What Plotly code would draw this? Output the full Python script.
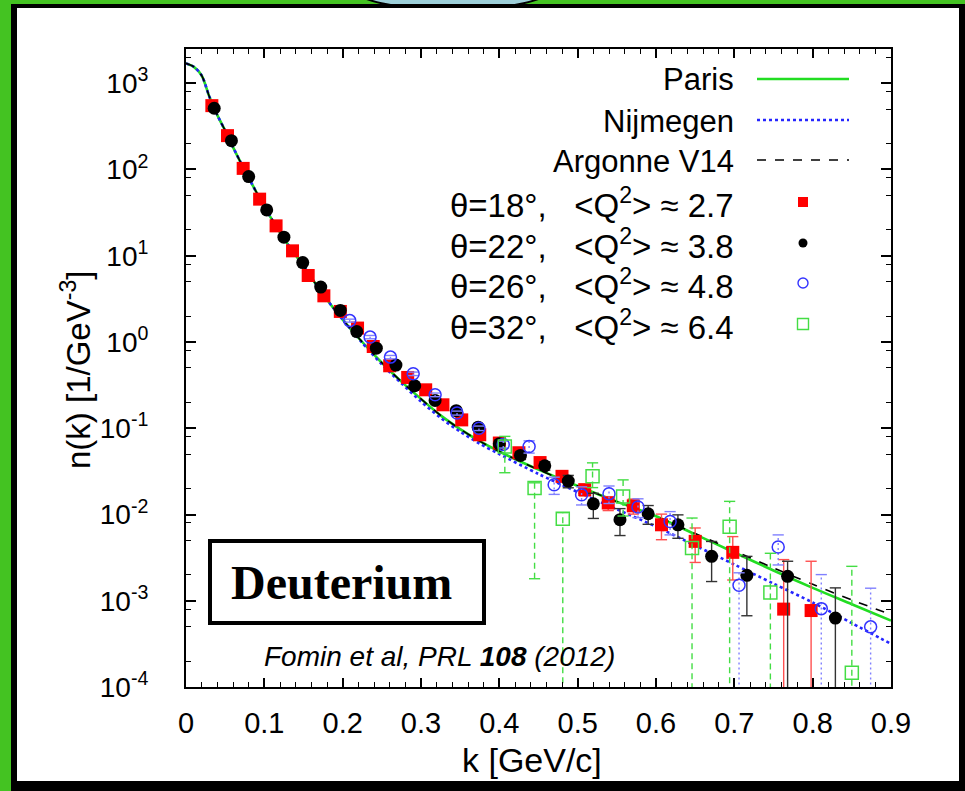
import plotly.graph_objects as go

# ---------------- data ----------------
k_curve = [0.0, 0.01, 0.02, 0.03, 0.04, 0.05, 0.06, 0.075, 0.10, 0.125, 0.15, 0.175, 0.20,
           0.225, 0.25, 0.275, 0.30, 0.325, 0.35, 0.375, 0.40, 0.45, 0.50, 0.55, 0.60,
           0.65, 0.70, 0.75, 0.80, 0.85, 0.90]
n_paris = [1700, 1550, 1230, 692, 427, 282, 182, 97.7, 37.2, 15.8, 7.59, 3.55, 1.82,
           1.0, 0.575, 0.347, 0.219, 0.141, 0.0977, 0.0708, 0.0537, 0.0331, 0.0214, 0.0141, 0.00955,
           0.00589, 0.00363, 0.00224, 0.00141, 0.000912, 0.000589]
n_nijmegen = [1700, 1550, 1230, 692, 427, 282, 182, 97.7, 37.2, 15.8, 7.59, 3.55, 1.82,
              0.977, 0.550, 0.331, 0.204, 0.132, 0.0912, 0.0661, 0.0501, 0.0295, 0.0182, 0.0115, 0.00724,
              0.00437, 0.00263, 0.00158, 0.000955, 0.00055, 0.000316]
n_argonne = [1700, 1550, 1230, 692, 427, 282, 182, 97.7, 37.2, 15.8, 7.59, 3.55, 1.82,
             1.0, 0.575, 0.347, 0.219, 0.141, 0.0977, 0.0708, 0.0537, 0.0331, 0.0214, 0.0141, 0.00955,
             0.00603, 0.00380, 0.00240, 0.00155, 0.00102, 0.000692]

k_18 = [0.033, 0.053, 0.073, 0.094, 0.115, 0.136, 0.156, 0.176, 0.197, 0.219, 0.239, 0.260, 0.283,
        0.306, 0.328, 0.352, 0.375, 0.400, 0.425, 0.452, 0.480, 0.509, 0.539, 0.571, 0.607, 0.650,
        0.698, 0.763, 0.798]
n_18 = [550, 247, 103, 45.3, 22.2, 11.4, 5.9, 3.43, 2.26, 1.45, 0.887, 0.53, 0.388,
        0.279, 0.187, 0.125, 0.084, 0.0674, 0.052, 0.040, 0.0277, 0.0194, 0.0136, 0.0126, 0.0076, 0.00488,
        0.00364, 0.00080, 0.00077]
up_18 = [16, 7, 3, 1.4, 0.7, 0.35, 0.18, 0.1, 0.07, 0.05, 0.03, 0.02, 0.015,
         0.012, 0.009, 0.007, 0.006, 0.006, 0.005, 0.005, 0.004, 0.003, 0.0025, 0.0025, 0.0025, 0.0021,
         0.0019, 0.0022, 0.0021]
lo_18 = [16, 7, 3, 1.4, 0.7, 0.35, 0.18, 0.1, 0.07, 0.05, 0.03, 0.02, 0.015,
         0.012, 0.009, 0.007, 0.006, 0.006, 0.005, 0.005, 0.004, 0.003, 0.0025, 0.0025, 0.0025, 0.0021,
         0.0019, 0.000799, 0.000769]

k_22 = [0.036, 0.058, 0.080, 0.103, 0.125, 0.149, 0.172, 0.197, 0.218, 0.243, 0.268, 0.292, 0.318,
        0.345, 0.373, 0.400, 0.427, 0.458, 0.488, 0.520, 0.554, 0.590, 0.628, 0.671, 0.716, 0.768, 0.829]
n_22 = [513, 216, 82.8, 34.0, 16.4, 8.34, 4.33, 2.32, 1.32, 0.849, 0.54, 0.311, 0.21,
        0.16, 0.103, 0.066, 0.0484, 0.0367, 0.0244, 0.0133, 0.0087, 0.0102, 0.0076, 0.00327, 0.00197,
        0.00192, 0.00063]
up_22 = [15, 6, 2.5, 1.0, 0.5, 0.25, 0.13, 0.07, 0.04, 0.03, 0.02, 0.012, 0.009,
         0.007, 0.006, 0.005, 0.005, 0.004, 0.004, 0.0043, 0.003, 0.0025, 0.0023, 0.0016, 0.0013,
         0.00095, 0.00078]
lo_22 = [15, 6, 2.5, 1.0, 0.5, 0.25, 0.13, 0.07, 0.04, 0.03, 0.02, 0.012, 0.009,
         0.007, 0.006, 0.005, 0.005, 0.004, 0.004, 0.0043, 0.003, 0.0025, 0.0023, 0.0016, 0.0013,
         0.00191, 0.000629]

k_26 = [0.209, 0.235, 0.261, 0.290, 0.318, 0.346, 0.374, 0.405, 0.438, 0.470, 0.505, 0.540, 0.577,
        0.618, 0.706, 0.756, 0.811, 0.874]
n_26 = [1.77, 1.14, 0.668, 0.428, 0.244, 0.15, 0.10, 0.0649, 0.0615, 0.0221, 0.0169, 0.0174, 0.0122,
        0.0083, 0.00151, 0.0042, 0.00081, 0.000498]
up_26 = [0.07, 0.05, 0.03, 0.02, 0.012, 0.008, 0.006, 0.006, 0.01, 0.005, 0.004, 0.004, 0.003,
         0.0025, 0.0006, 0.0016, 0.0012, 0.0009]
lo_26 = [0.07, 0.05, 0.03, 0.02, 0.012, 0.008, 0.006, 0.006, 0.01, 0.005, 0.004, 0.004, 0.003,
         0.0025, 0.001509, 0.0016, 0.000809, 0.000497]

k_32 = [0.407, 0.445, 0.481, 0.519, 0.558, 0.646, 0.694, 0.746, 0.850]
n_32 = [0.0615, 0.0203, 0.0089, 0.0277, 0.0162, 0.0041, 0.0072, 0.00125, 0.000146]
up_32 = [0.019, 0.003, 0.0016, 0.012, 0.009, 0.005, 0.007, 0.0023, 0.00236]
lo_32 = [0.031, 0.0185, 0.00889, 0.0072, 0.0066, 0.004095, 0.00719, 0.001249, 0.0001459]

x_tickvals = [0, 0.1, 0.2, 0.3, 0.4, 0.5, 0.6, 0.7, 0.8, 0.9]
x_ticktext = ["0", "0.1", "0.2", "0.3", "0.4", "0.5", "0.6", "0.7", "0.8", "0.9"]
y_tickvals = [1e-4, 1e-3, 1e-2, 1e-1, 1e0, 1e1, 1e2, 1e3]
y_ticktext = ["10<sup>-4</sup>", "10<sup>-3</sup>", "10<sup>-2</sup>", "10<sup>-1</sup>",
              "10<sup>0</sup>", "10<sup>1</sup>", "10<sup>2</sup>", "10<sup>3</sup>"]
y_minorvals = [m * 10.0 ** e for e in range(-4, 4) for m in (2, 5, 8)]

curve_labels = ["Paris", "Nijmegen", "Argonne V14"]
data_labels = ["θ=18°,&nbsp;&nbsp; &lt;Q<sup>2</sup>&gt; ≈ 2.7",
               "θ=22°,&nbsp;&nbsp; &lt;Q<sup>2</sup>&gt; ≈ 3.8",
               "θ=26°,&nbsp;&nbsp; &lt;Q<sup>2</sup>&gt; ≈ 4.8",
               "θ=32°,&nbsp;&nbsp; &lt;Q<sup>2</sup>&gt; ≈ 6.4"]

# ---------------- layout geometry (pixels) ----------------
W, H = 965, 791
L, R, T, B = 186, 891, 49, 687
FONT = "Liberation Sans, Arial, sans-serif"


def px(x):
    return (x - L) / (R - L)


def py(y):
    return (B - y) / (B - T)


GREEN_LINE = "#22dd22"
BLUE_LINE = "#2525ff"

fig = go.Figure()

# theory curves
fig.add_trace(go.Scatter(x=k_curve, y=n_paris, mode="lines", line=dict(color=GREEN_LINE, width=2.6, shape="spline", smoothing=0.8), showlegend=False))
fig.add_trace(go.Scatter(x=k_curve, y=n_nijmegen, mode="lines", line=dict(color=BLUE_LINE, width=2.6, dash="dot", shape="spline", smoothing=0.8), showlegend=False))
fig.add_trace(go.Scatter(x=k_curve, y=n_argonne, mode="lines", line=dict(color="black", width=1.6, dash="dash", shape="spline", smoothing=0.8), showlegend=False))


def add_series(k, n, up, lo, color, ecolor, edash, symbol, size, lw):
    xs, ys = [], []
    for ki, ni, u, l in zip(k, n, up, lo):
        xs += [ki, ki, None]
        ys += [ni - l, ni + u, None]
    fig.add_trace(go.Scatter(x=xs, y=ys, mode="lines", line=dict(color=ecolor, width=1.4, dash=edash),
                             showlegend=False, hoverinfo="skip"))
    cx = list(k) + list(k)
    cy = [ni + u for ni, u in zip(n, up)] + [ni - l for ni, l in zip(n, lo)]
    fig.add_trace(go.Scatter(x=cx, y=cy, mode="markers",
                             marker=dict(symbol="line-ew", size=8, line=dict(color=ecolor, width=1.4)),
                             showlegend=False, hoverinfo="skip"))
    fig.add_trace(go.Scatter(x=k, y=n, mode="markers",
                             marker=dict(symbol=symbol, size=size, color=color,
                                         line=dict(color=color, width=lw)),
                             showlegend=False))


add_series(k_18, n_18, up_18, lo_18, "#ff0000", "#ff5050", "solid", "square", 13, 0)
add_series(k_22, n_22, up_22, lo_22, "#000000", "#333333", "solid", "circle", 13, 0)
add_series(k_26, n_26, up_26, lo_26, "#3333ff", "#8080ff", "2px,3px", "circle-open", 12, 1.5)
add_series(k_32, n_32, up_32, lo_32, "#44dd44", "#44dd44", "6px,4px", "square-open", 13, 1.5)

# ---------------- legend (manual, gnuplot style) ----------------
row_y = [79, 120, 160, 202, 243, 283, 324]
line_styles = [(GREEN_LINE, 2.6, "solid"), (BLUE_LINE, 2.6, "dot"), ("black", 1.6, "dash")]
shapes = []
for yy, (c, w, d) in zip(row_y[:3], line_styles):
    shapes.append(dict(type="line", xref="paper", yref="paper", x0=px(757), x1=px(849),
                       y0=py(yy), y1=py(yy), line=dict(color=c, width=w, dash=d)))

leg_syms = [("square", "#ff0000", 10, 0), ("circle", "#000000", 9, 0),
            ("circle-open", "#3333ff", 10, 1.4), ("square-open", "#44dd44", 11, 1.4)]
for yy, (s, c, sz, lw) in zip(row_y[3:], leg_syms):
    fig.add_trace(go.Scatter(x=[px(803)], y=[py(yy)], xaxis="x2", yaxis="y2", mode="markers",
                             marker=dict(symbol=s, color=c, size=sz, line=dict(color=c, width=lw)),
                             showlegend=False, hoverinfo="skip"))

annotations = []
for i, (yy, txt) in enumerate(zip(row_y, curve_labels + data_labels)):
    annotations.append(dict(x=px(736), y=py(yy + 1), xref="paper", yref="paper", text=txt,
                            showarrow=False, xanchor="right", yanchor="middle",
                            font=dict(family=FONT, size=31 if i < 3 else 33, color="black")))

# Deuterium box and citation
shapes.append(dict(type="rect", xref="paper", yref="paper", x0=px(210), x1=px(484), y0=py(623), y1=py(541),
                   line=dict(color="black", width=4), fillcolor="white", layer="above"))
annotations.append(dict(x=px(341), y=py(582), xref="paper", yref="paper", text="<b>Deuterium</b>",
                        showarrow=False, xanchor="center", yanchor="middle",
                        font=dict(family="Liberation Serif, Times New Roman, serif", size=48, color="black")))
annotations.append(dict(x=px(439), y=py(656), xref="paper", yref="paper",
                        text="<i>Fomin et al, PRL <b>108</b> (2012)</i>",
                        showarrow=False, xanchor="center", yanchor="middle",
                        font=dict(family=FONT, size=28, color="black")))

# axis titles
annotations.append(dict(x=px(76), y=py(370), xref="paper", yref="paper", text="n(k) [1/GeV<sup>-3</sup>]",
                        textangle=-90, showarrow=False, xanchor="center", yanchor="middle",
                        font=dict(family=FONT, size=33, color="black")))
annotations.append(dict(x=px(532), y=py(760), xref="paper", yref="paper", text="k [GeV/c]",
                        showarrow=False, xanchor="center", yanchor="middle",
                        font=dict(family=FONT, size=34, color="black")))

# frame decoration (green border, black band, blue tab)
frame = [
    dict(type="circle", xref="paper", yref="paper", x0=px(352), x1=px(553), y0=py(-36), y1=py(10),
         fillcolor="#9dcfd9", line=dict(color="black", width=2), layer="below"),
    dict(type="rect", xref="paper", yref="paper", x0=px(11), x1=px(990), y0=py(820), y1=py(4),
         fillcolor="black", line=dict(width=0), layer="below"),
    dict(type="rect", xref="paper", yref="paper", x0=px(17), x1=px(959), y0=py(781), y1=py(8),
         fillcolor="white", line=dict(width=0), layer="below"),
]

fig.update_layout(
    width=W, height=H,
    margin=dict(l=L, r=W - R, t=T, b=H - B, pad=0),
    paper_bgcolor="#44c322",
    plot_bgcolor="white",
    showlegend=False,
    shapes=frame + shapes,
    annotations=annotations,
    xaxis=dict(range=[0, 0.9], tickmode="array", tickvals=x_tickvals, ticktext=x_ticktext,
               ticks="inside", ticklen=9, tickwidth=1.5, tickcolor="black",
               showline=True, linewidth=2, linecolor="black", mirror="ticks",
               showgrid=False, zeroline=False, ticklabelstandoff=9,
               tickfont=dict(family=FONT, size=29, color="black"),
               minor=dict(dtick=0.02, tick0=0, ticks="inside", ticklen=5, tickwidth=1.2, tickcolor="black")),
    yaxis=dict(type="log", range=[-4, 3.397], tickmode="array", tickvals=y_tickvals, ticktext=y_ticktext,
               ticks="inside", ticklen=10, tickwidth=1.5, tickcolor="black",
               showline=True, linewidth=2, linecolor="black", mirror="ticks",
               showgrid=False, zeroline=False, ticklabelstandoff=30,
               tickfont=dict(family=FONT, size=28, color="black"),
               minor=dict(tickmode="array", tickvals=y_minorvals, ticks="inside", ticklen=5,
                          tickwidth=1.2, tickcolor="black")),
    xaxis2=dict(overlaying="x", range=[0, 1], visible=False),
    yaxis2=dict(overlaying="y", range=[0, 1], visible=False),
)

fig.write_html("out.html", config={"displayModeBar": False},
               post_script="document.body.style.margin='0';document.body.style.overflow='hidden';")
